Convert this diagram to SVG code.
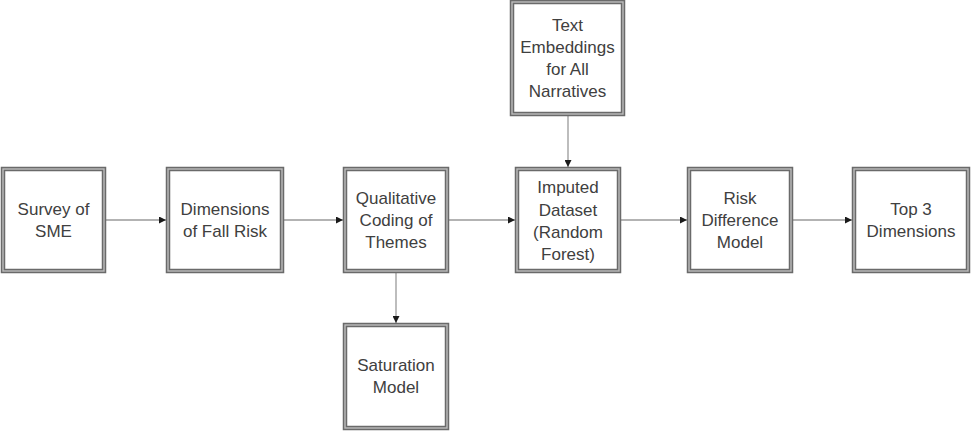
<svg xmlns="http://www.w3.org/2000/svg" width="972" height="433" viewBox="0 0 972 433">
<defs>
<style>
.box-o{fill:#ffffff;stroke:#6a6a6a;stroke-width:4.5}
.box-i{fill:none;stroke:#bdbdbd;stroke-width:1.4}
.lbl{font-family:"Liberation Sans",Arial,sans-serif;font-size:17px;fill:#404040;text-anchor:middle}
.conn{stroke:#9a9a9a;stroke-width:1.3;fill:none}
</style>
<marker id="arr" viewBox="0 0 10 10" refX="10" refY="5" markerWidth="7" markerHeight="7" markerUnits="userSpaceOnUse" orient="auto">
<path d="M0,0 L10,5 L0,10 z" fill="#1a1a1a"/>
</marker>
</defs>
<rect width="972" height="433" fill="#ffffff"/>
<g id="connectors">
<line class="conn" x1="106" y1="220" x2="166" y2="220" marker-end="url(#arr)"/>
<line class="conn" x1="284" y1="220" x2="343" y2="220" marker-end="url(#arr)"/>
<line class="conn" x1="449" y1="220" x2="515" y2="220" marker-end="url(#arr)"/>
<line class="conn" x1="621" y1="220" x2="687" y2="220" marker-end="url(#arr)"/>
<line class="conn" x1="793" y1="220" x2="852" y2="220" marker-end="url(#arr)"/>
<line class="conn" x1="568" y1="116" x2="568" y2="167" marker-end="url(#arr)"/>
<line class="conn" x1="396" y1="273" x2="396" y2="323" marker-end="url(#arr)"/>
</g>
<g id="survey">
<rect class="box-o" x="3" y="169" width="101" height="102"/>
<rect class="box-i" x="3" y="169" width="101" height="102"/>
<text class="lbl" x="53.5" y="215">Survey of</text>
<text class="lbl" x="53.5" y="237">SME</text>
</g>
<g id="dimensions">
<rect class="box-o" x="168" y="169" width="114" height="102"/>
<rect class="box-i" x="168" y="169" width="114" height="102"/>
<text class="lbl" x="225" y="215">Dimensions</text>
<text class="lbl" x="225" y="237">of Fall Risk</text>
</g>
<g id="qualitative">
<rect class="box-o" x="345" y="169" width="102" height="102"/>
<rect class="box-i" x="345" y="169" width="102" height="102"/>
<text class="lbl" x="396" y="204">Qualitative</text>
<text class="lbl" x="396" y="226">Coding of</text>
<text class="lbl" x="396" y="248">Themes</text>
</g>
<g id="imputed">
<rect class="box-o" x="517" y="169" width="102" height="102"/>
<rect class="box-i" x="517" y="169" width="102" height="102"/>
<text class="lbl" x="568" y="193">Imputed</text>
<text class="lbl" x="568" y="215.5">Dataset</text>
<text class="lbl" x="568" y="238">(Random</text>
<text class="lbl" x="568" y="260">Forest)</text>
</g>
<g id="risk">
<rect class="box-o" x="689" y="169" width="102" height="102"/>
<rect class="box-i" x="689" y="169" width="102" height="102"/>
<text class="lbl" x="740" y="204">Risk</text>
<text class="lbl" x="740" y="226">Difference</text>
<text class="lbl" x="740" y="248">Model</text>
</g>
<g id="top3">
<rect class="box-o" x="854" y="169" width="114" height="102"/>
<rect class="box-i" x="854" y="169" width="114" height="102"/>
<text class="lbl" x="911" y="215">Top 3</text>
<text class="lbl" x="911" y="237">Dimensions</text>
</g>
<g id="embeddings">
<rect class="box-o" x="512" y="2" width="111" height="112"/>
<rect class="box-i" x="512" y="2" width="111" height="112"/>
<text class="lbl" x="567.5" y="31">Text</text>
<text class="lbl" x="567.5" y="53">Embeddings</text>
<text class="lbl" x="567.5" y="75">for All</text>
<text class="lbl" x="567.5" y="97">Narratives</text>
</g>
<g id="saturation">
<rect class="box-o" x="345" y="325" width="102" height="103"/>
<rect class="box-i" x="345" y="325" width="102" height="103"/>
<text class="lbl" x="396" y="371">Saturation</text>
<text class="lbl" x="396" y="393">Model</text>
</g>
</svg>
